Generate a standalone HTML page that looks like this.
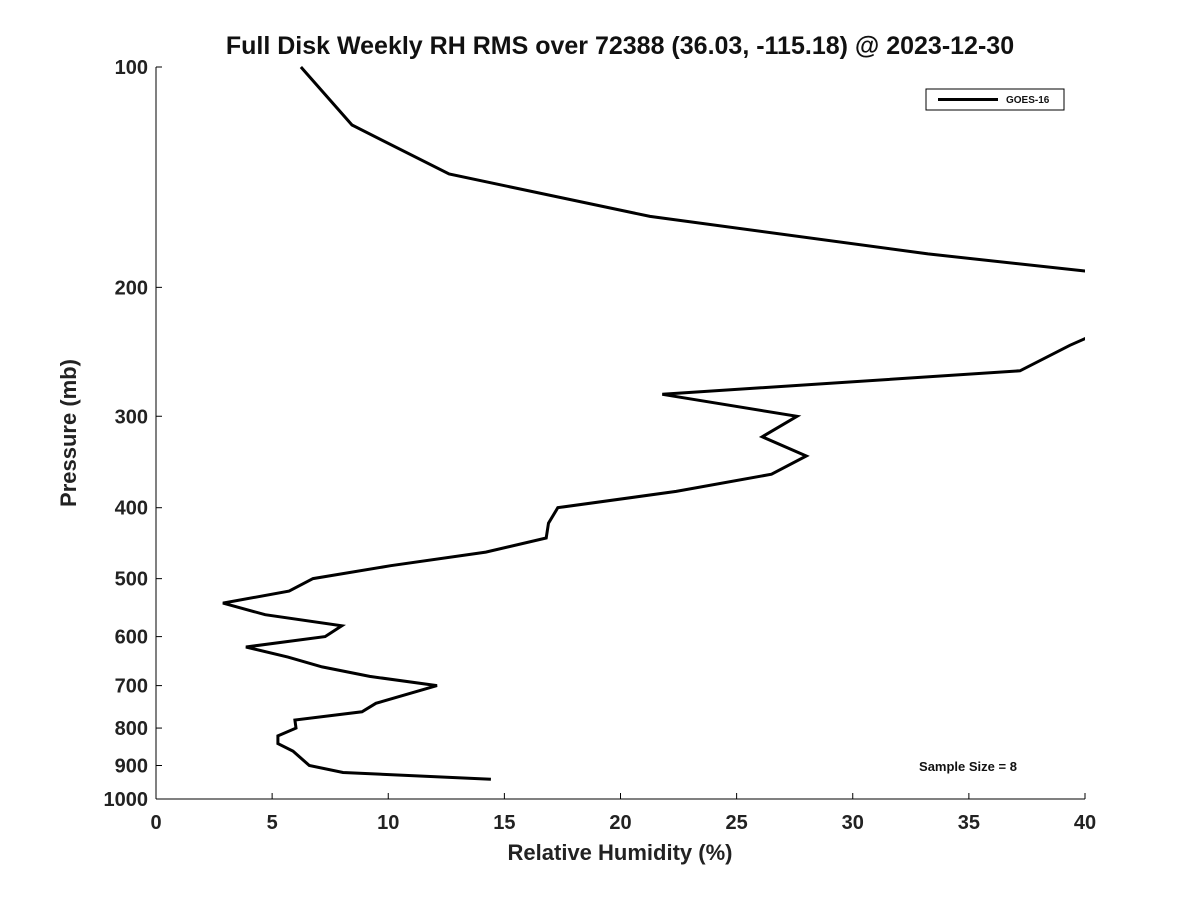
<!DOCTYPE html>
<html><head><meta charset="utf-8">
<style>
body{margin:0;background:#fff;}
svg{display:block;font-family:"Liberation Sans","DejaVu Sans",sans-serif;}
</style></head>
<body>
<svg id="chart" width="1200" height="900" viewBox="0 0 1200 900">
<defs><clipPath id="plotclip"><rect x="156" y="60" width="929" height="740"/></clipPath></defs>
<text x="620" y="54" text-anchor="middle" font-size="25" font-weight="bold" fill="#111">Full Disk Weekly RH RMS over 72388 (36.03, -115.18) @ 2023-12-30</text>
<g id="axes"></g>
<g id="series" clip-path="url(#plotclip)"></g>
<g>
<rect x="926" y="89" width="138" height="21" fill="#fff" stroke="#000" stroke-width="1"/>
<line x1="938" y1="99.5" x2="998" y2="99.5" stroke="#000" stroke-width="3"/>
<text x="1006" y="103" font-size="10" font-weight="bold" fill="#111">GOES-16</text>
</g>
<text x="968" y="771" text-anchor="middle" font-size="13" font-weight="bold" fill="#111">Sample Size = 8</text>
<text x="620" y="860" text-anchor="middle" font-size="22" font-weight="bold" fill="#222">Relative Humidity (%)</text>
<text transform="translate(76,433) rotate(-90)" text-anchor="middle" font-size="22" font-weight="bold" fill="#222">Pressure (mb)</text>
</svg>
<script>
const pressures=[100,120,140,160,180,190,200,220,235,240,260,280,300,320,340,360,380,400,420,440,460,480,500,520,540,560,580,600,620,640,660,680,700,740,760,780,800,820,840,860,900,920,940];
const rhGoes16=[6.24,8.44,12.62,21.27,33.24,40,46,43,40,39.35,37.2,21.8,27.6,26.1,28.0,26.5,22.4,17.3,16.9,16.8,14.2,10.1,6.76,5.73,2.88,4.7,8.0,7.28,3.87,5.68,7.15,9.2,12.1,9.47,8.87,5.98,6.03,5.25,5.25,5.9,6.6,8.05,14.42];
const xTicks=[0,5,10,15,20,25,30,35,40];
const yTicks=[100,200,300,400,500,600,700,800,900,1000];
const NS='http://www.w3.org/2000/svg';
const X0=156,X1=1085,Y0=67,Y1=799;
function xs(v){return X0+(v-0)/(40-0)*(X1-X0);}
function ys(p){return Y0+(Math.log10(p)-2)*(Y1-Y0);}
const axes=document.getElementById('axes');
function mk(tag,attrs,parent){const e=document.createElementNS(NS,tag);for(const k in attrs)e.setAttribute(k,attrs[k]);parent.appendChild(e);return e;}
const xl=mk('line',{x1:X0,y1:Y1,x2:X1,y2:Y1,stroke:'#000','stroke-width':1},axes);


const yl=mk('line',{x1:X0,y1:Y0,x2:X0,y2:Y1,stroke:'#000','stroke-width':1},axes);


xTicks.forEach(v=>{
  const x=xs(v);
  const t=mk('line',{x1:x,y1:Y1,x2:x,y2:Y1-6,stroke:'#000'},axes);
  
  
  const l=mk('text',{x:x,y:Y1+30,'text-anchor':'middle','font-size':20,'font-weight':'bold',fill:'#222'},axes);
  l.textContent=v;
  
  
});
yTicks.forEach(p=>{
  const y=ys(p);
  const t=mk('line',{x1:X0,y1:y,x2:X0+6,y2:y,stroke:'#000'},axes);
  
  
  const l=mk('text',{x:X0-8,y:y+7,'text-anchor':'end','font-size':20,'font-weight':'bold',fill:'#222'},axes);
  l.textContent=p;
  
  
});
const pts=pressures.map((p,i)=>xs(rhGoes16[i]).toFixed(1)+','+ys(p).toFixed(1)).join(' ');
const line=mk('polyline',{points:pts,fill:'none',stroke:'#000','stroke-width':3,'stroke-linejoin':'miter'},document.getElementById('series'));


</script>
</body></html>
